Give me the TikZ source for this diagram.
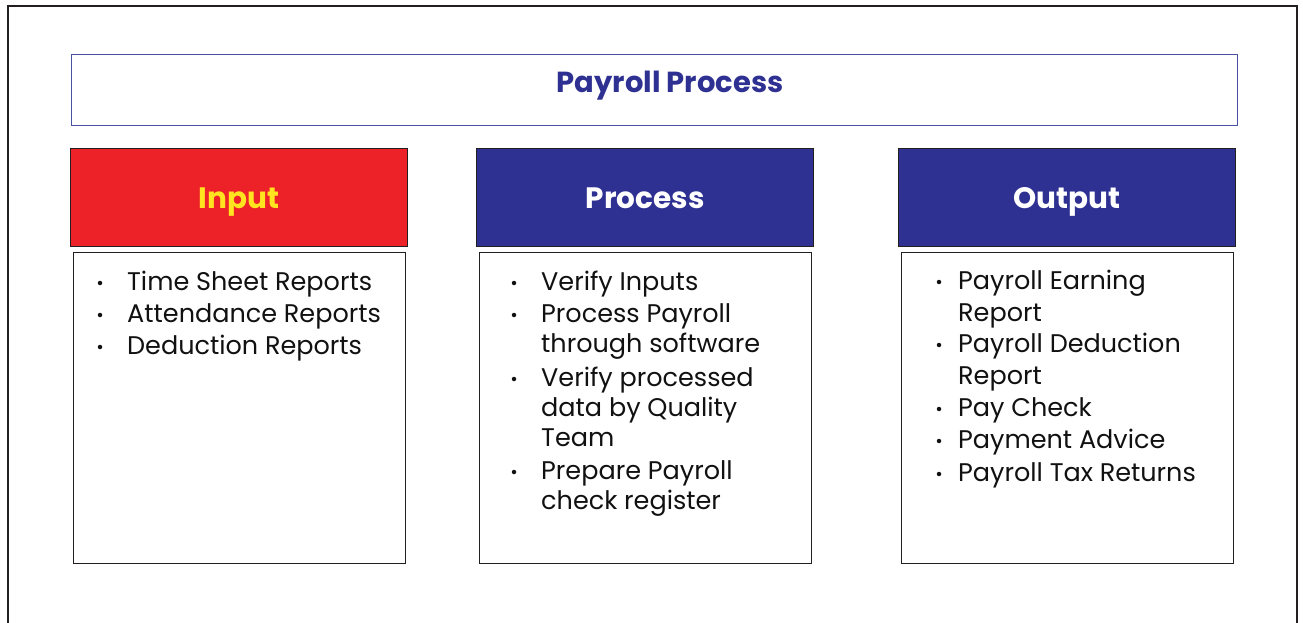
\documentclass[tikz,border=0pt]{standalone}
\usepackage{fontspec}
\setmainfont{Poppins}
\definecolor{hdrblue}{HTML}{2E3192}
\definecolor{hdrred}{HTML}{ED2228}
\definecolor{hdryellow}{HTML}{FFE41F}
\definecolor{titleline}{HTML}{4A52A3}
\definecolor{boxline}{HTML}{231F20}
\definecolor{txt}{HTML}{111111}
\begin{document}
\begin{tikzpicture}[x=1pt,y=-1pt,
  hdr/.style={draw=boxline, line width=1.2pt, minimum width=337pt, minimum height=98pt, anchor=north west, inner sep=0pt, text height=21pt, text depth=0pt, font=\fontsize{29.5}{34}\selectfont\bfseries},
  bodybox/.style={draw=boxline, line width=1.1pt, minimum width=332pt, minimum height=311pt, anchor=north west, inner sep=0pt},
  ln/.style={anchor=base west, inner sep=0pt, font=\fontsize{25.5}{30}\selectfont, text=txt},
  bul/.style={circle, fill=txt, inner sep=0pt, minimum size=4.5pt}]
\useasboundingbox (0,0) rectangle (1303,623);
\fill[white] (0,0) rectangle (1303,623);
\draw[line width=2pt, boxline] (8,640) -- (8,6) -- (1297,6) -- (1297,640);
% title
\node[draw=titleline, line width=1.2pt, minimum width=1166pt, minimum height=71pt, anchor=north west, inner sep=0pt] (titlebox) at (71,54) {};
\node[text=hdrblue, font=\fontsize{29}{34}\selectfont\bfseries, inner sep=0pt, anchor=base] (titletext) at (670,93) {Payroll Process};
% headers
\node[hdr, fill=hdrred, text=hdryellow] (hin) at (70,148) {Input};
\node[hdr, fill=hdrblue, text=white] (hproc) at (476,148) {Process};
\node[hdr, fill=hdrblue, text=white] (hout) at (898,148) {Output};
% bodies
\node[bodybox] (bin) at (73,252) {};
\node[bodybox] (bproc) at (479,252) {};
\node[bodybox] (bout) at (901,252) {};
% input items
\node[bul] (ib1) at (100,283) {};
\node[ln] (it1) at (127,290) {Time Sheet Reports};
\node[bul] (ib2) at (100,315) {};
\node[ln] (it2) at (127,322) {Attendance Reports};
\node[bul] (ib3) at (100,347) {};
\node[ln] (it3) at (127,354) {Deduction Reports};
% process items
\node[bul] (pb1) at (514,283) {};
\node[ln] (pt1) at (541,290) {Verify Inputs};
\node[bul] (pb2) at (514,315) {};
\node[ln] (pt2) at (541,322) {Process Payroll};
\node[ln] (pt3) at (541,352) {through software};
\node[bul] (pb3) at (514,379) {};
\node[ln] (pt4) at (541,386) {Verify processed};
\node[ln] (pt5) at (541,416) {data by Quality};
\node[ln] (pt6) at (541,446) {Team};
\node[bul] (pb4) at (514,472) {};
\node[ln] (pt7) at (541,479) {Prepare Payroll};
\node[ln] (pt8) at (541,509) {check register};
% output items
\node[bul] (ob1) at (939,282) {};
\node[ln] (ot1) at (958,289) {Payroll Earning};
\node[ln] (ot2) at (958,321) {Report};
\node[bul] (ob2) at (939,345) {};
\node[ln] (ot3) at (958,352) {Payroll Deduction};
\node[ln] (ot4) at (958,384) {Report};
\node[bul] (ob3) at (939,409) {};
\node[ln] (ot5) at (958,416) {Pay Check};
\node[bul] (ob4) at (939,441) {};
\node[ln] (ot6) at (958,448) {Payment Advice};
\node[bul] (ob5) at (939,474) {};
\node[ln] (ot7) at (958,481) {Payroll Tax Returns};
\end{tikzpicture}
\end{document}
